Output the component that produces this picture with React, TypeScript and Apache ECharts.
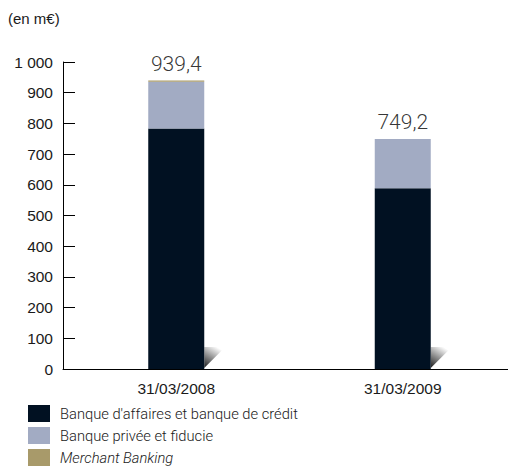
import React, { useEffect, useRef } from "react";
import * as echarts from "echarts";

const categories = ["31/03/2008", "31/03/2009"];
const banqueAffaires = [783.5, 588.5];
const banquePrivee = [152.5, 160.7];
const merchantBanking = [3.4, 0];
const totals = [939.4, 749.2];
const seriesNames = [
  "Banque d'affaires et banque de crédit",
  "Banque privée et fiducie",
  "Merchant Banking",
];
const yTicks = [0, 100, 200, 300, 400, 500, 600, 700, 800, 900, 1000];

const DARK = "#011122";
const LIGHT = "#a2abc3";
const GOLD = "#a89a6a";
const TXT = "#1a1a1a";
const TICKFONT = "'Liberation Sans Narrow', 'Liberation Sans', Arial, sans-serif";
const LIGHTFONT = "Roboto, 'Open Sans', sans-serif";

export default function App() {
  const ref = useRef<HTMLDivElement>(null);
  useEffect(() => {
    if (!ref.current) return;
    const chart = echarts.init(ref.current, null, { renderer: "svg" });
    const option: any = {
      animation: false,
      grid: { left: 55, right: 0, top: 54, bottom: 99, containLabel: false },
      graphic: [
        {
          type: "text",
          left: 0,
          top: 3,
          style: { text: "(en m€)", fontSize: 15, fill: TXT, fontFamily: TICKFONT },
        },
      ],
      legend: {
        orient: "vertical",
        left: 20,
        top: 397,
        height: 70,
        padding: 0,
        icon: "rect",
        itemWidth: 22,
        itemHeight: 17,
        itemGap: 5,
        selectedMode: false,
        textStyle: {
          fontSize: 14.7,
          lineHeight: 17,
          color: TXT,
          fontFamily: LIGHTFONT,
          fontWeight: 300,
          padding: [0, 0, 0, 5],
        },
        data: [
          { name: seriesNames[0] },
          { name: seriesNames[1] },
          { name: seriesNames[2], textStyle: { fontStyle: "italic" } },
        ],
      },
      xAxis: {
        type: "category",
        data: categories,
        axisLine: { lineStyle: { color: "#000", width: 1 } },
        axisTick: { inside: true, length: 7, lineStyle: { color: "#000" } },
        axisLabel: { fontSize: 15.5, color: TXT, fontFamily: TICKFONT, margin: 11 },
      },
      yAxis: {
        type: "value",
        min: 0,
        max: 1000,
        interval: 100,
        splitLine: { show: false },
        axisLine: { show: true, lineStyle: { color: "#000", width: 1 } },
        axisTick: { show: true, inside: true, length: 12, lineStyle: { color: "#000" } },
        axisLabel: {
          fontSize: 15.5,
          color: TXT,
          fontFamily: TICKFONT,
          margin: 10,
          customValues: yTicks,
          formatter: (v: number) =>
            String(v).replace(/\B(?=(\d{3})+(?!\d))/g, " "),
        },
      },
      series: [
        {
          type: "custom",
          name: "shadow",
          z: 1,
          silent: true,
          renderItem: (params: any, api: any) => {
            const idx = api.value(0);
            const base = api.coord([idx, 0]);
            const half = 28;
            const x0 = base[0] + half;
            const y0 = base[1];
            return {
              type: "polygon",
              shape: {
                points: [
                  [x0, y0 - 1],
                  [x0, y0 - 22],
                  [x0 + 21, y0 - 22],
                ],
              },
              style: {
                fill: new echarts.graphic.LinearGradient(0, 1, 0.6, 0, [
                  { offset: 0, color: "#1a1a1a" },
                  { offset: 1, color: "#ffffff" },
                ]),
              },
            };
          },
          data: categories.map((_, i) => [i, 0]),
        },
        {
          name: seriesNames[0],
          type: "bar",
          stack: "total",
          barWidth: 56,
          itemStyle: { color: DARK },
          data: banqueAffaires,
          z: 2,
        },
        {
          name: seriesNames[1],
          type: "bar",
          stack: "total",
          barWidth: 56,
          itemStyle: { color: LIGHT },
          data: banquePrivee,
          z: 2,
        },
        {
          name: seriesNames[2],
          type: "bar",
          stack: "total",
          barWidth: 56,
          itemStyle: { color: GOLD },
          data: merchantBanking,
          z: 2,
        },
        {
          name: "total",
          type: "scatter",
          symbolSize: 0,
          silent: true,
          data: totals,
          label: {
            show: true,
            position: "top",
            distance: 6,
            fontSize: 21,
            color: "#000",
            fontFamily: LIGHTFONT,
            fontWeight: 300,
            formatter: (p: any) => String(p.value).replace(".", ","),
          },
        },
      ],
    };
    chart.setOption(option);
    return () => chart.dispose();
  }, []);
  return <div ref={ref} style={{ width: 508, height: 460 }} />;
}
